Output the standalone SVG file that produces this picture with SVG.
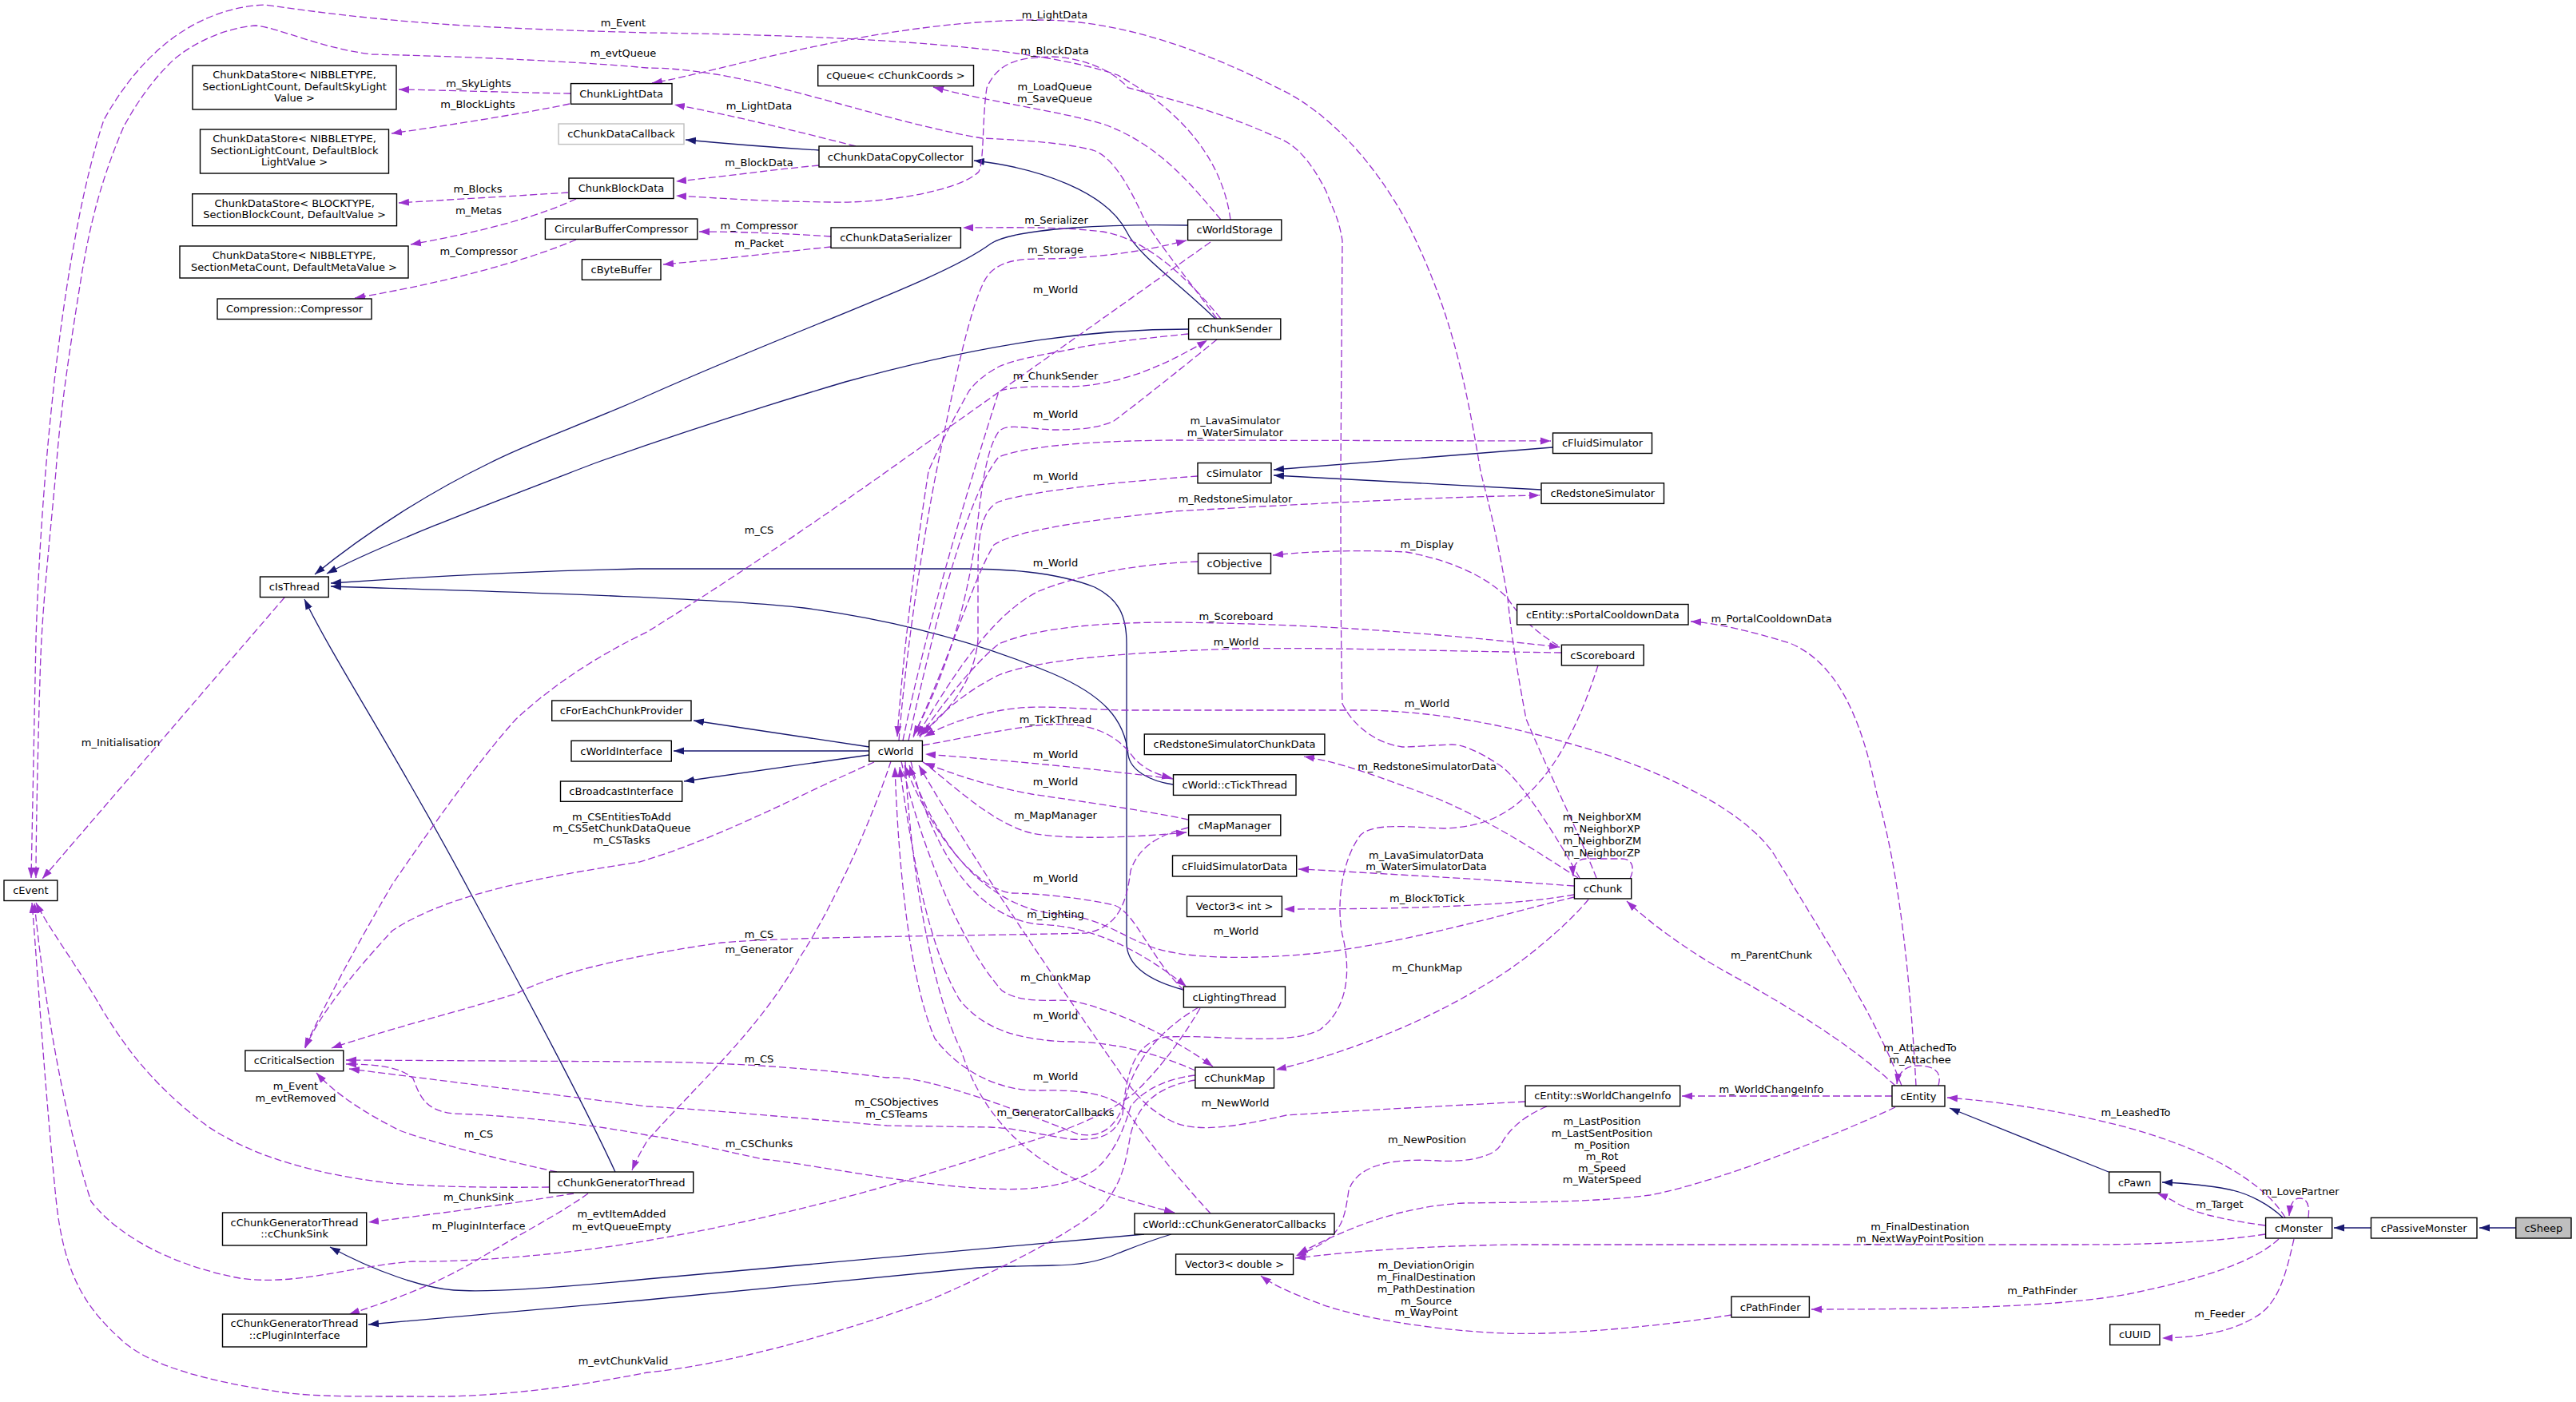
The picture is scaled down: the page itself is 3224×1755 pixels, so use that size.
<svg xmlns="http://www.w3.org/2000/svg" width="3224" height="1755" viewBox="0 0 3224 1755">
<style>
.n rect{fill:#fff;stroke:#000;stroke-width:1.4}
.n.g rect{stroke:#bfbfbf}
.n.s rect{fill:#bfbfbf}
text{font-family:"DejaVu Sans","Liberation Sans",sans-serif;font-size:13px;fill:#000;text-anchor:middle}
.u{fill:none;stroke:#9a32cd;stroke-width:1.3;stroke-dasharray:9,4;marker-end:url(#pa)}
.i{fill:none;stroke:#191970;stroke-width:1.3;marker-end:url(#na)}
</style>
<defs>
<marker id="pa" markerUnits="userSpaceOnUse" markerWidth="14" markerHeight="10" refX="13" refY="5" orient="auto"><path d="M0,0.5 L13,5 L0,9.5 z" fill="#9a32cd"/></marker>
<marker id="na" markerUnits="userSpaceOnUse" markerWidth="14" markerHeight="10" refX="13" refY="5" orient="auto"><path d="M0,0.5 L13,5 L0,9.5 z" fill="#191970"/></marker>
</defs>
<rect width="3224" height="1755" fill="#fff"/>
<g id="edges">
<path class="i" d="M1025,188 C960,184 900,179 858,175"/>
<path class="i" d="M1521,399 C1470,350 1425,320 1410,290 C1385,240 1300,210 1219,201"/>
<path class="i" d="M1487,282 C1400,280 1270,285 1240,305 C1180,350 1000,410 800,500 C720,535 660,555 612,580 C540,615 460,665 394,719"/>
<path class="i" d="M1488,412 C1380,412 1250,425 1058,478 C900,525 800,560 744,580 C640,620 480,680 409,718"/>
<path class="i" d="M1481,1239 C1440,1228 1410,1210 1410,1180 L1410,806 C1410,770 1400,750 1370,735 C1320,715 1250,712 1213,712 L800,712 C650,715 500,724 414,730"/>
<path class="i" d="M1468,982 C1440,978 1415,965 1412,945 C1408,900 1380,870 1317,843 C1250,815 1150,780 1006,761 C900,748 600,740 414,734"/>
<path class="i" d="M1943,560 L1594,588"/>
<path class="i" d="M1929,613 L1594,595"/>
<path class="i" d="M1088,935 L868,902"/>
<path class="i" d="M1088,940 L843,940"/>
<path class="i" d="M1088,945 L856,978"/>
<path class="i" d="M770,1467 C730,1380 660,1250 590,1120 C500,950 420,830 381,750"/>
<path class="i" d="M1432,1545 L810,1601 C700,1612 610,1618 568,1615 C530,1612 470,1592 413,1561"/>
<path class="i" d="M1466,1545 C1430,1556 1410,1565 1399,1569 C1370,1582 1340,1584 1317,1584 C1280,1585 1240,1585 1213,1588 L800,1628 L461,1658"/>
<path class="i" d="M2639,1467 L2440,1387"/>
<path class="i" d="M2857,1524 C2840,1508 2815,1494 2790,1489 C2760,1483 2730,1481 2706,1480"/>
<path class="i" d="M2967,1537 L2921,1537"/>
<path class="i" d="M3149,1537 L3103,1537"/>

<path class="u" d="M714,117 C650,116 560,113 499,112"/>
<path class="u" d="M713,130 C650,143 560,157 490,167"/>
<path class="u" d="M711,241 C650,245 560,250 499,254"/>
<path class="u" d="M721,249 C680,268 620,287 514,306"/>
<path class="u" d="M721,300 C670,322 570,352 444,373"/>
<path class="u" d="M1071,183 C1000,165 920,145 844,131"/>
<path class="u" d="M1025,207 C960,213 900,222 846,227"/>
<path class="u" d="M1040,296 C980,292 920,290 875,290"/>
<path class="u" d="M1040,309 C980,315 900,325 830,331"/>
<path class="u" d="M1528,275 C1490,230 1450,180 1380,155 C1320,138 1240,128 1168,109"/>
<path class="u" d="M1528,399 C1480,340 1430,298 1380,290 C1320,283 1260,285 1205,285"/>
<path class="u" d="M1125,927 C1135,800 1160,650 1172,590 C1190,500 1210,400 1229,358 C1240,330 1265,324 1300,324 C1370,324 1430,315 1485,301"/>
<path class="u" d="M1130,927 C1160,780 1215,600 1250,490 C1270,482 1320,484 1342,484 C1400,481 1450,462 1511,426"/>
<path class="u" d="M1137,927 C1170,780 1210,620 1250,572 C1280,560 1350,552 1470,551 L1941,552"/>
<path class="u" d="M1143,923 C1190,820 1220,720 1244,682 C1270,665 1350,652 1470,640 C1650,630 1800,622 1927,620"/>
<path class="u" d="M1151,923 C1180,880 1220,830 1250,806 C1300,785 1380,779 1470,779 C1650,781 1800,793 1952,810"/>
<path class="u" d="M1155,933 C1200,925 1260,912 1300,908 C1360,902 1395,915 1420,950 C1435,965 1450,970 1467,974"/>
<path class="u" d="M1154,953 C1190,980 1240,1030 1291,1043 C1340,1052 1420,1048 1485,1042"/>
<path class="u" d="M1140,953 C1170,1080 1230,1150 1300,1157 C1380,1160 1440,1200 1485,1235"/>
<path class="u" d="M1128,953 C1150,1050 1200,1180 1254,1240 C1280,1258 1320,1250 1342,1253 C1400,1265 1470,1300 1518,1335"/>
<path class="u" d="M1115,953 C1090,1030 1040,1140 1000,1200 C950,1290 870,1360 810,1428 C800,1445 795,1455 791,1465"/>
<path class="u" d="M1133,953 C1140,1100 1170,1250 1203,1315 C1230,1400 1290,1460 1394,1496 C1430,1508 1450,1513 1470,1518"/>
<path class="u" d="M1094,954 C1000,995 900,1050 800,1079 C700,1095 568,1114 491,1165 C440,1220 400,1270 382,1312"/>
<path class="u" d="M1515,303 L1110,590 C1000,668 900,735 810,791 C760,815 700,850 646,900 C600,950 530,1050 491,1107 C460,1160 420,1230 381,1312"/>
<path class="u" d="M1487,418 C1420,425 1370,430 1342,437 C1300,445 1270,450 1250,459 C1230,470 1220,480 1213,489 C1190,530 1170,570 1162,590 C1145,700 1130,820 1123,922"/>
<path class="u" d="M1523,425 C1480,460 1430,500 1394,527 C1370,538 1340,538 1317,538 C1280,536 1260,530 1250,540 C1236,560 1230,600 1224,650 C1210,780 1170,870 1143,921"/>
<path class="u" d="M1499,596 C1420,602 1300,612 1250,628 C1225,640 1224,680 1224,720 L1224,800 C1220,850 1190,890 1150,921"/>
<path class="u" d="M1499,703 C1420,706 1350,720 1300,740 C1240,770 1190,850 1148,921"/>
<path class="u" d="M1950,808 C1920,790 1900,770 1887,749 C1860,720 1810,700 1760,691 C1700,688 1640,690 1593,695"/>
<path class="u" d="M1954,817 C1800,815 1650,810 1550,812 C1420,816 1300,825 1250,845 C1210,865 1180,890 1155,919"/>
<path class="u" d="M2380,1359 C2350,1280 2300,1200 2220,1069 C2180,1010 2070,960 1962,930 C1900,912 1800,889 1700,889 L1404,889 C1330,887 1290,880 1239,892 C1200,900 1175,912 1157,922"/>
<path class="u" d="M1468,975 C1400,966 1300,955 1158,944"/>
<path class="u" d="M1487,1026 C1420,1012 1330,1000 1291,994 C1240,985 1190,968 1157,955"/>
<path class="u" d="M1482,1240 C1440,1200 1420,1140 1394,1133 C1360,1125 1300,1118 1265,1118 C1220,1110 1170,1050 1132,958"/>
<path class="u" d="M1970,1123 C1880,1145 1760,1180 1650,1193 C1560,1202 1480,1200 1440,1185 C1400,1170 1380,1150 1330,1145 C1250,1140 1180,1080 1138,958"/>
<path class="u" d="M1496,1340 C1450,1320 1400,1305 1342,1304 C1280,1303 1230,1290 1200,1250 C1160,1180 1140,1060 1126,960"/>
<path class="u" d="M1515,1519 C1470,1470 1430,1420 1410,1390 C1390,1368 1350,1364 1300,1365 C1250,1366 1200,1340 1170,1300 C1140,1230 1125,1100 1120,960"/>
<path class="u" d="M1909,1379 C1800,1385 1700,1390 1610,1396 C1550,1410 1500,1418 1470,1405 C1440,1392 1420,1370 1400,1340 C1330,1240 1220,1080 1150,958"/>
<path class="u" d="M1487,1036 C1450,1045 1425,1060 1415,1090 C1410,1130 1400,1160 1360,1168 C1200,1172 1000,1172 903,1180 C800,1195 700,1215 646,1244 C560,1270 480,1290 415,1312"/>
<path class="u" d="M1500,1261 C1450,1290 1420,1330 1410,1370 C1400,1410 1380,1425 1350,1420 C1250,1380 1150,1345 1110,1349 C1000,1335 900,1330 810,1329 L433,1327"/>
<path class="u" d="M1496,1346 C1460,1350 1430,1365 1415,1385 C1405,1420 1390,1450 1368,1466 C1330,1488 1280,1490 1239,1488 C1150,1485 1000,1455 955,1451 C880,1435 840,1425 810,1421 C700,1400 600,1395 568,1394 C530,1390 525,1370 517,1350 C500,1335 470,1332 433,1332"/>
<path class="u" d="M2000,833 C1985,880 1962,937 1930,975 C1900,1010 1870,1035 1807,1037 C1760,1035 1720,1030 1703,1045 C1680,1075 1672,1130 1680,1170 C1690,1210 1690,1260 1652,1289 C1610,1310 1530,1295 1460,1298 C1420,1305 1410,1340 1405,1395 C1395,1420 1380,1428 1340,1426 C1300,1420 1270,1412 1239,1411 L1110,1409 C1000,1400 900,1390 810,1385 L437,1338"/>
<path class="u" d="M697,1467 C620,1450 540,1430 500,1415 C460,1395 420,1370 396,1343"/>
<path class="u" d="M687,1486 C600,1487 520,1485 480,1480 C400,1470 320,1450 260,1410 C200,1365 160,1320 120,1250 C90,1200 60,1160 45,1130"/>
<path class="u" d="M718,1494 C650,1505 560,1518 461,1530"/>
<path class="u" d="M736,1494 C700,1520 650,1545 594,1579 C550,1605 500,1625 437,1645"/>
<path class="u" d="M1502,1262 C1480,1300 1450,1340 1420,1368 C1380,1400 1320,1420 1265,1436 C1150,1475 1000,1520 810,1553 C700,1572 580,1580 517,1579 C440,1585 370,1610 300,1600 C220,1585 150,1550 114,1504 C80,1400 55,1250 43,1130"/>
<path class="u" d="M1496,1352 C1450,1360 1425,1380 1415,1420 C1408,1460 1404,1480 1380,1510 C1340,1545 1250,1590 1162,1628 C1050,1670 900,1710 810,1718 C700,1740 600,1750 517,1748 C440,1748 400,1748 362,1744 C260,1730 190,1710 155,1680 C110,1640 80,1600 70,1500 C55,1350 46,1200 40,1130"/>
<path class="u" d="M356,748 L53,1100"/>
<path class="u" d="M1540,275 C1530,200 1480,140 1399,94 C1300,60 1100,45 810,41 C600,35 500,30 331,6 C250,10 180,60 130,150 C80,300 52,580 45,800 C42,950 40,1050 39,1099"/>
<path class="u" d="M1523,399 C1480,340 1446,301 1430,270 C1410,226 1390,195 1368,188 C1330,178 1270,175 1229,173 C1150,160 1050,128 955,105 C900,92 850,85 810,85 C700,75 550,70 465,68 C400,60 350,35 320,32 C280,35 240,55 217,75 C180,110 160,150 155,158 C120,240 110,300 103,339 C85,450 75,520 70,590 C60,700 52,768 50,850 C47,950 45,1050 45,1099"/>
<path class="u" d="M1998,1099 C1975,1040 1935,960 1910,900 C1895,820 1890,780 1887,749 C1870,650 1860,620 1853,590 C1830,450 1810,380 1765,286 C1720,200 1660,140 1605,113 C1500,60 1400,25 1300,25 C1100,25 900,90 816,104"/>
<path class="u" d="M1977,1099 C1950,1050 1900,970 1874,956 C1850,940 1830,932 1817,932 C1790,933 1770,935 1755,935 C1720,930 1693,907 1680,881 C1678,800 1678,700 1678,590 L1680,301 C1675,270 1667,260 1660,240 C1640,200 1620,180 1600,173 C1530,140 1450,120 1412,110 C1390,85 1350,72 1317,71 C1280,72 1250,75 1235,110 C1229,150 1232,200 1225,215 C1200,240 1100,255 1040,253 C950,252 900,248 846,245"/>
<path class="u" d="M2372,1359 C2330,1320 2271,1278 2168,1221 C2120,1195 2070,1160 2036,1128"/>
<path class="u" d="M2398,1359 C2392,1250 2380,1100 2349,994 C2330,900 2300,830 2240,805 C2190,790 2150,780 2116,778"/>
<path class="u" d="M1988,1126 C1960,1160 1900,1210 1858,1233 C1800,1270 1700,1315 1597,1339"/>
<path class="u" d="M1975,1099 C1930,1070 1870,1030 1800,1000 C1720,970 1680,955 1632,947"/>
<path class="u" d="M1970,1109 C1850,1100 1750,1095 1650,1089 L1625,1088"/>
<path class="u" d="M1970,1120 C1900,1132 1800,1138 1607,1138"/>
<path class="u" d="M2368,1372 L2105,1372"/>
<path class="u" d="M2372,1386 C2300,1420 2150,1480 2065,1496 C2000,1505 1900,1505 1832,1506 C1750,1510 1680,1540 1624,1570"/>
<path class="u" d="M1936,1385 C1900,1400 1885,1420 1879,1432 C1870,1450 1830,1455 1800,1453 C1750,1450 1700,1455 1688,1490 C1682,1530 1680,1550 1622,1572"/>
<path class="u" d="M2167,1646 C2080,1660 1950,1672 1884,1669 C1800,1666 1700,1650 1652,1632 C1620,1620 1595,1610 1578,1597"/>
<path class="u" d="M2835,1545 C2780,1553 2720,1558 2600,1558 L1900,1558 C1760,1560 1680,1568 1621,1575"/>
<path class="u" d="M2852,1551 C2820,1580 2760,1600 2663,1620 C2580,1635 2450,1639 2267,1639"/>
<path class="u" d="M2871,1551 C2860,1600 2850,1635 2820,1650 C2790,1668 2750,1674 2706,1675"/>
<path class="u" d="M2835,1534 C2790,1528 2750,1520 2726,1507 C2715,1500 2708,1497 2700,1494"/>
<path class="u" d="M2860,1524 C2840,1490 2790,1455 2715,1428 C2640,1400 2520,1380 2437,1374"/>
<path class="u" d="M2889,1524 C2891,1510 2888,1500 2878,1500 C2869,1500 2866,1510 2865,1522"/>
<path class="u" d="M2426,1359 C2430,1345 2425,1334 2400,1334 C2385,1334 2376,1342 2374,1357"/>
<path class="u" d="M2040,1100 C2046,1088 2044,1075 2030,1075 L1985,1075 C1973,1075 1968,1085 1969,1097"/>

<text x="780" y="33">m_Event</text>
<text x="780" y="71">m_evtQueue</text>
<text x="599" y="109">m_SkyLights</text>
<text x="598" y="135">m_BlockLights</text>
<text x="598" y="240.5">m_Blocks</text>
<text x="599" y="268">m_Metas</text>
<text x="599" y="319">m_Compressor</text>
<text x="950" y="137">m_LightData</text>
<text x="950" y="208">m_BlockData</text>
<text x="950" y="287">m_Compressor</text>
<text x="950" y="309">m_Packet</text>
<text x="1320" y="23">m_LightData</text>
<text x="1320" y="68">m_BlockData</text>
<text x="1320" y="112.5">m_LoadQueue<tspan x="1320" dy="15">m_SaveQueue</tspan></text>
<text x="1322" y="280">m_Serializer</text>
<text x="1321" y="317">m_Storage</text>
<text x="1321" y="367">m_World</text>
<text x="1321" y="475">m_ChunkSender</text>
<text x="1321" y="523">m_World</text>
<text x="1546" y="531">m_LavaSimulator<tspan x="1546" dy="14.5">m_WaterSimulator</tspan></text>
<text x="1321" y="600.5">m_World</text>
<text x="1546" y="629">m_RedstoneSimulator</text>
<text x="950" y="667.5">m_CS</text>
<text x="1321" y="708.5">m_World</text>
<text x="1786" y="685.5">m_Display</text>
<text x="2217" y="779">m_PortalCooldownData</text>
<text x="1547" y="776">m_Scoreboard</text>
<text x="1547" y="807.5">m_World</text>
<text x="1786" y="884.5">m_World</text>
<text x="1321" y="904.5">m_TickThread</text>
<text x="151" y="933.5">m_Initialisation</text>
<text x="1321" y="948.5">m_World</text>
<text x="1786" y="964">m_RedstoneSimulatorData</text>
<text x="1321" y="982.5">m_World</text>
<text x="1321" y="1025">m_MapManager</text>
<text x="778" y="1026.5">m_CSEntitiesToAdd<tspan x="778" dy="14.5">m_CSSetChunkDataQueue</tspan><tspan x="778" dy="15">m_CSTasks</tspan></text>
<text x="2005" y="1027">m_NeighborXM<tspan x="2005" dy="14.5">m_NeighborXP</tspan><tspan x="2005" dy="15">m_NeighborZM</tspan><tspan x="2005" dy="15">m_NeighborZP</tspan></text>
<text x="1785" y="1075">m_LavaSimulatorData<tspan x="1785" dy="14">m_WaterSimulatorData</tspan></text>
<text x="1321" y="1103.5">m_World</text>
<text x="1786" y="1129">m_BlockToTick</text>
<text x="1321" y="1149">m_Lighting</text>
<text x="1547" y="1169.5">m_World</text>
<text x="950" y="1173.5">m_CS</text>
<text x="950" y="1192.5">m_Generator</text>
<text x="2217" y="1200">m_ParentChunk</text>
<text x="1786" y="1216">m_ChunkMap</text>
<text x="1321" y="1227.5">m_ChunkMap</text>
<text x="1321" y="1276">m_World</text>
<text x="2403" y="1316">m_AttachedTo<tspan x="2403" dy="15">m_Attachee</tspan></text>
<text x="950" y="1329.5">m_CS</text>
<text x="1321" y="1351.5">m_World</text>
<text x="370" y="1364">m_Event<tspan x="370" dy="15">m_evtRemoved</tspan></text>
<text x="2217" y="1367.5">m_WorldChangeInfo</text>
<text x="1122" y="1384">m_CSObjectives<tspan x="1122" dy="15">m_CSTeams</tspan></text>
<text x="1546" y="1385">m_NewWorld</text>
<text x="1321" y="1397">m_GeneratorCallbacks</text>
<text x="2673" y="1397">m_LeashedTo</text>
<text x="2005" y="1408">m_LastPosition<tspan x="2005" dy="15">m_LastSentPosition</tspan><tspan x="2005" dy="14.5">m_Position</tspan><tspan x="2005" dy="14.5">m_Rot</tspan><tspan x="2005" dy="14.5">m_Speed</tspan><tspan x="2005" dy="14.5">m_WaterSpeed</tspan></text>
<text x="599" y="1424">m_CS</text>
<text x="1786" y="1431">m_NewPosition</text>
<text x="950" y="1435.5">m_CSChunks</text>
<text x="2879" y="1496">m_LovePartner</text>
<text x="599" y="1503">m_ChunkSink</text>
<text x="2778" y="1512">m_Target</text>
<text x="778" y="1524">m_evtItemAdded<tspan x="778" dy="15.5">m_evtQueueEmpty</tspan></text>
<text x="2403" y="1540">m_FinalDestination<tspan x="2403" dy="15">m_NextWayPointPosition</tspan></text>
<text x="599" y="1539">m_PluginInterface</text>
<text x="1785" y="1588">m_DeviationOrigin<tspan x="1785" dy="15">m_FinalDestination</tspan><tspan x="1785" dy="14.5">m_PathDestination</tspan><tspan x="1785" dy="15">m_Source</tspan><tspan x="1785" dy="14.5">m_WayPoint</tspan></text>
<text x="2556" y="1620">m_PathFinder</text>
<text x="2778" y="1649">m_Feeder</text>
<text x="780" y="1707.5">m_evtChunkValid</text>
</g>

<g id="n1" class="n"><rect x="241" y="82" width="255" height="55"/><text x="368.5" y="98">ChunkDataStore&lt; NIBBLETYPE,<tspan x="368.5" dy="14.5">SectionLightCount, DefaultSkyLight</tspan><tspan x="368.5" dy="14.5">Value &gt;</tspan></text></g>
<g id="n2" class="n"><rect x="250.5" y="162" width="236" height="55"/><text x="368.5" y="178">ChunkDataStore&lt; NIBBLETYPE,<tspan x="368.5" dy="14.5">SectionLightCount, DefaultBlock</tspan><tspan x="368.5" dy="14.5">LightValue &gt;</tspan></text></g>
<g id="n3" class="n"><rect x="240.7" y="242.7" width="255.8" height="40"/><text x="368.6" y="259">ChunkDataStore&lt; BLOCKTYPE,<tspan x="368.6" dy="14">SectionBlockCount, DefaultValue &gt;</tspan></text></g>
<g id="n4" class="n"><rect x="225" y="308" width="286" height="40"/><text x="368" y="323.5">ChunkDataStore&lt; NIBBLETYPE,<tspan x="368" dy="15">SectionMetaCount, DefaultMetaValue &gt;</tspan></text></g>
<g id="n5" class="n"><rect x="272" y="374" width="193" height="25.5"/><text x="368.5" y="391.2">Compression::Compressor</text></g>
<g id="n6" class="n"><rect x="714.5" y="104.6" width="126.5" height="25.6"/><text x="777.7" y="121.9">ChunkLightData</text></g>
<g id="n7" class="n g"><rect x="699" y="155" width="157" height="25.6"/><text x="777.5" y="172.3">cChunkDataCallback</text></g>
<g id="n8" class="n"><rect x="712" y="223" width="131" height="25.5"/><text x="777.5" y="240.2">ChunkBlockData</text></g>
<g id="n9" class="n"><rect x="682.4" y="274" width="190.4" height="25.5"/><text x="777.6" y="291.2">CircularBufferCompressor</text></g>
<g id="n10" class="n"><rect x="728.4" y="324.7" width="98.6" height="25.6"/><text x="777.7" y="342">cByteBuffer</text></g>
<g id="n11" class="n"><rect x="1023.7" y="81.7" width="194.8" height="25.9"/><text x="1121" y="99.1">cQueue&lt; cChunkCoords &gt;</text></g>
<g id="n12" class="n"><rect x="1025" y="183" width="192" height="26"/><text x="1121" y="200.5">cChunkDataCopyCollector</text></g>
<g id="n13" class="n"><rect x="1040" y="284.9" width="162.4" height="25.5"/><text x="1121.2" y="302.1">cChunkDataSerializer</text></g>
<g id="n14" class="n"><rect x="1486.6" y="275" width="117.2" height="25.7"/><text x="1545.2" y="292.3">cWorldStorage</text></g>
<g id="n15" class="n"><rect x="1487.6" y="399" width="115.2" height="25.8"/><text x="1545.2" y="416.4">cChunkSender</text></g>
<g id="n16" class="n"><rect x="1499" y="579.5" width="92" height="25.3"/><text x="1545" y="596.6">cSimulator</text></g>
<g id="n17" class="n"><rect x="1943.5" y="542" width="124" height="25.5"/><text x="2005.5" y="559.2">cFluidSimulator</text></g>
<g id="n18" class="n"><rect x="1929" y="604.8" width="153.5" height="25.6"/><text x="2005.8" y="622.1">cRedstoneSimulator</text></g>
<g id="n19" class="n"><rect x="1499.5" y="692.5" width="91" height="25.5"/><text x="1545" y="709.7">cObjective</text></g>
<g id="n20" class="n"><rect x="1898.6" y="756.5" width="214.4" height="25.5"/><text x="2005.8" y="773.7">cEntity::sPortalCooldownData</text></g>
<g id="n21" class="n"><rect x="1954.4" y="807.3" width="102.8" height="25.7"/><text x="2005.8" y="824.6">cScoreboard</text></g>
<g id="n22" class="n"><rect x="325.5" y="722" width="85.7" height="25.5"/><text x="368.4" y="739.2">cIsThread</text></g>
<g id="n23" class="n"><rect x="690.7" y="877" width="174.3" height="25.3"/><text x="777.8" y="894.1">cForEachChunkProvider</text></g>
<g id="n24" class="n"><rect x="715" y="927.3" width="125.3" height="25.7"/><text x="777.6" y="944.6">cWorldInterface</text></g>
<g id="n25" class="n"><rect x="701.5" y="978" width="152.2" height="25.3"/><text x="777.6" y="995.1">cBroadcastInterface</text></g>
<g id="n26" class="n"><rect x="1087.7" y="927.3" width="66.7" height="25.7"/><text x="1121" y="944.6">cWorld</text></g>
<g id="n27" class="n"><rect x="1432.3" y="919" width="225.6" height="25.6"/><text x="1545.1" y="936.3">cRedstoneSimulatorChunkData</text></g>
<g id="n28" class="n"><rect x="1468.5" y="969.8" width="153.5" height="25.6"/><text x="1545.2" y="987.1">cWorld::cTickThread</text></g>
<g id="n29" class="n"><rect x="1487.6" y="1020" width="115.2" height="26"/><text x="1545.2" y="1037.5">cMapManager</text></g>
<g id="n30" class="n"><rect x="1467.5" y="1071" width="155.2" height="26"/><text x="1545.1" y="1088.5">cFluidSimulatorData</text></g>
<g id="n31" class="n"><rect x="1485.5" y="1122" width="118.9" height="25.5"/><text x="1545" y="1139.2">Vector3&lt; int &gt;</text></g>
<g id="n32" class="n"><rect x="1970.4" y="1099.7" width="71.3" height="25.3"/><text x="2006" y="1116.8">cChunk</text></g>
<g id="n33" class="n"><rect x="5" y="1102" width="66.8" height="25.5"/><text x="38.4" y="1119.2">cEvent</text></g>
<g id="n34" class="n"><rect x="1481.4" y="1235" width="127.1" height="26"/><text x="1545" y="1252.5">cLightingThread</text></g>
<g id="n35" class="n"><rect x="1495.9" y="1336" width="98.6" height="26"/><text x="1545.2" y="1353.5">cChunkMap</text></g>
<g id="n36" class="n"><rect x="306.9" y="1315" width="122.9" height="25.7"/><text x="368.3" y="1332.3">cCriticalSection</text></g>
<g id="n37" class="n"><rect x="1909" y="1359" width="193.7" height="25.8"/><text x="2005.8" y="1376.4">cEntity::sWorldChangeInfo</text></g>
<g id="n38" class="n"><rect x="2368" y="1359" width="66" height="26"/><text x="2401" y="1376.5">cEntity</text></g>
<g id="n39" class="n"><rect x="687.6" y="1467" width="180.1" height="26"/><text x="777.6" y="1484.5">cChunkGeneratorThread</text></g>
<g id="n40" class="n"><rect x="2639.6" y="1467" width="64.1" height="26"/><text x="2671.6" y="1484.5">cPawn</text></g>
<g id="n41" class="n"><rect x="278.5" y="1518" width="180.2" height="41"/><text x="368.6" y="1534.5">cChunkGeneratorThread<tspan x="368.6" dy="14.5">::cChunkSink</tspan></text></g>
<g id="n42" class="n"><rect x="1420" y="1519" width="250" height="26"/><text x="1545" y="1536.5">cWorld::cChunkGeneratorCallbacks</text></g>
<g id="n43" class="n"><rect x="2835.6" y="1524.4" width="83.1" height="25.6"/><text x="2877" y="1541.7">cMonster</text></g>
<g id="n44" class="n"><rect x="2967.5" y="1524.4" width="132.5" height="25.6"/><text x="3033.7" y="1541.7">cPassiveMonster</text></g>
<g id="n45" class="n s"><rect x="3148.8" y="1524.4" width="69.2" height="25.6"/><text x="3183.4" y="1541.7">cSheep</text></g>
<g id="n46" class="n"><rect x="1471.6" y="1570" width="147" height="25.5"/><text x="1545.1" y="1587.2">Vector3&lt; double &gt;</text></g>
<g id="n47" class="n"><rect x="2167" y="1623" width="97.4" height="26"/><text x="2215.7" y="1640.5">cPathFinder</text></g>
<g id="n48" class="n"><rect x="278.5" y="1645" width="180.2" height="41"/><text x="368.6" y="1661">cChunkGeneratorThread<tspan x="368.6" dy="15">::cPluginInterface</tspan></text></g>
<g id="n49" class="n"><rect x="2640.7" y="1658" width="62.3" height="25.6"/><text x="2671.9" y="1675.3">cUUID</text></g>
</svg>
